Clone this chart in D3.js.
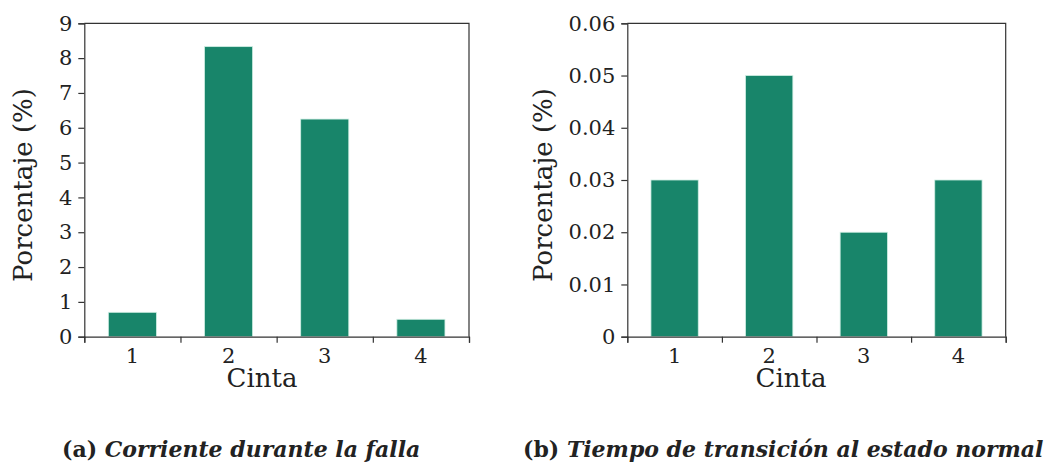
<!DOCTYPE html>
<html lang="es">
<head>
<meta charset="UTF-8" />
<title>Cintas</title>
<script src="https://cdn.jsdelivr.net/npm/d3@7"></script>
<style>
  body { margin: 0; background: #fff; }
  text { font-family: "DejaVu Serif", serif; fill: #222; }
</style>
</head>
<body>
<script>
var cintas = ["1", "2", "3", "4"];
var corriente = [0.7, 8.33, 6.25, 0.5];
var tiempo = [0.03, 0.05, 0.02, 0.03];
var ticksA = [0, 1, 2, 3, 4, 5, 6, 7, 8, 9];
var ticksB = [0, 0.01, 0.02, 0.03, 0.04, 0.05, 0.06];
var captionA = ["(a)", "Corriente durante la falla"];
var captionB = ["(b)", "Tiempo de transición al estado normal"];

var w = 1051, h = 464;
var svg = d3.select("body").append("svg").attr("width", w).attr("height", h);

function panel(o) {
  var top = 23.3, bottom = 336.7, left = o.left, right = o.right;
  var x = d3.scaleBand().domain(cintas).range([left, right]).paddingInner(0.5).paddingOuter(0.25);
  var xb = d3.scaleLinear().domain([0, 4]).range([left, right]);
  var y = d3.scaleLinear().domain([0, d3.max(o.ticks)]).range([bottom, top]);
  var g = svg.append("g");

  g.selectAll("rect.bar")
    .data(o.values)
    .enter()
    .append("rect")
    .attr("class", "bar")
    .attr("x", function(d, i) { return x(cintas[i]); })
    .attr("width", x.bandwidth())
    .attr("y", function(d) { return y(d); })
    .attr("height", function(d) { return y(0) - y(d); })
    .attr("fill", "#18856a")
    .attr("stroke", "#cfeee3")
    .attr("stroke-width", 0.8);

  // frame top + right
  g.append("path")
    .attr("d", "M" + left + "," + top + "H" + right + "V" + bottom)
    .attr("fill", "none").attr("stroke", "#333").attr("stroke-width", 1.2);

  var ya = g.append("g")
    .attr("transform", "translate(" + left + ",0)")
    .call(d3.axisLeft(y).tickValues(o.ticks).tickFormat(o.fmt).tickSize(6).tickPadding(6));
  ya.select(".domain").attr("stroke", "#333").attr("stroke-width", 1.2);
  ya.selectAll(".tick line").attr("stroke", "#333").attr("stroke-width", 1.2);
  ya.selectAll("text").style("font-size", "21px").attr("fill", "#222");

  // x axis: ticks at band edges, labels centred
  var xa = g.append("g")
    .attr("transform", "translate(0," + bottom + ")")
    .call(d3.axisBottom(xb).ticks(4).tickFormat("").tickSize(6).tickSizeOuter(6));
  xa.select(".domain").attr("stroke", "#333").attr("stroke-width", 1.2);
  xa.selectAll(".tick line").attr("stroke", "#333").attr("stroke-width", 1.2);

  g.selectAll("text.xl")
    .data(cintas)
    .enter()
    .append("text")
    .attr("class", "xl")
    .attr("x", function(d) { return x(d) + x.bandwidth() / 2; })
    .attr("y", 363)
    .attr("text-anchor", "middle")
    .style("font-size", "21px")
    .text(function(d) { return d; });

  g.append("text")
    .attr("x", o.xLabelX)
    .attr("y", 387)
    .attr("text-anchor", "middle")
    .style("font-size", "26px")
    .text("Cinta");

  g.append("text")
    .attr("text-anchor", "middle")
    .attr("transform", "translate(" + o.yLabelX + ",185)rotate(-90)")
    .style("font-size", "26px")
    .text("Porcentaje (%)");

  var c = svg.append("text")
    .attr("x", o.capX)
    .attr("y", 457)
    .style("font-size", "22px")
    .style("font-weight", "bold");
  c.append("tspan").text(o.caption[0] + " ");
  c.append("tspan").style("font-style", "italic").text(o.caption[1]);
}

panel({left: 84.3, right: 469, values: corriente, ticks: ticksA, fmt: d3.format("d"),
       caption: captionA, capX: 62, xLabelX: 262, yLabelX: 32});
panel({left: 627.3, right: 1005.7, values: tiempo, ticks: ticksB,
       fmt: function(d) { return d === 0 ? "0" : d3.format(".2f")(d); },
       caption: captionB, capX: 523, xLabelX: 791, yLabelX: 552});
</script>
</body>
</html>
